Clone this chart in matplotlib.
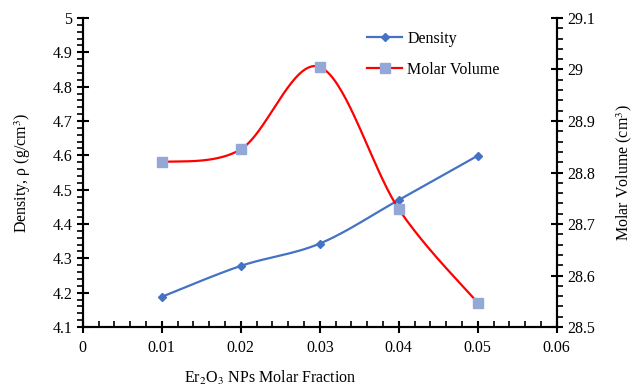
import numpy as np
import matplotlib.pyplot as plt
from matplotlib.ticker import MultipleLocator, FuncFormatter
from matplotlib.lines import Line2D

plt.rcParams['font.family'] = ['Liberation Serif', 'DejaVu Serif']
plt.rcParams['mathtext.fontset'] = 'stix'

# data
fraction = [0.01, 0.02, 0.03, 0.04, 0.05]
density = [4.188, 4.278, 4.343, 4.470, 4.599]
molar_volume = [28.820, 28.845, 29.005, 28.729, 28.547]


def smooth(x, y, n=40):
    # Excel-style smoothed line (Catmull-Rom through the points)
    x = np.asarray(x, float)
    y = np.asarray(y, float)
    px = np.concatenate([[x[0]], x, [x[-1]]])
    py = np.concatenate([[y[0]], y, [y[-1]]])
    xs, ys = [], []
    t = np.linspace(0, 1, n)
    for i in range(1, len(px) - 2):
        p0, p1, p2, p3 = [np.array([px[j], py[j]]) for j in range(i - 1, i + 3)]
        c1 = p1 + (p2 - p0) / 6
        c2 = p2 - (p3 - p1) / 6
        b = ((1 - t) ** 3)[:, None] * p1 + (3 * (1 - t) ** 2 * t)[:, None] * c1 \
            + (3 * (1 - t) * t ** 2)[:, None] * c2 + (t ** 3)[:, None] * p2
        xs.extend(b[:, 0])
        ys.extend(b[:, 1])
    return np.array(xs), np.array(ys)


fig = plt.figure(figsize=(6.37, 3.87), dpi=100)
ax = fig.add_axes([0.130, 0.155, 0.744, 0.7985])
ax2 = ax.twinx()

blue = '#4472C4'
red = '#FF0000'
sq = '#94A8D8'

sx, sy = smooth(fraction, density)
ax.plot(sx, sy, color=blue, lw=1.6)
ax.plot(fraction, density, ls='none', marker='D', ms=4.5, color=blue)

sx2, sy2 = smooth(fraction, molar_volume)
ax2.plot(sx2, sy2, color=red, lw=1.6)
ax2.plot(fraction, molar_volume, ls='none', marker='s', ms=7, color=sq)

ax.set_xlim(0, 0.06)
ax.set_ylim(4.1, 5.0)
ax2.set_ylim(28.5, 29.1)

ax.xaxis.set_major_locator(MultipleLocator(0.01))
ax.xaxis.set_minor_locator(MultipleLocator(0.002))
ax.yaxis.set_major_locator(MultipleLocator(0.1))
ax.yaxis.set_minor_locator(MultipleLocator(0.02))
ax2.yaxis.set_major_locator(MultipleLocator(0.1))
ax2.yaxis.set_minor_locator(MultipleLocator(0.02))

fmt = FuncFormatter(lambda v, p: '%g' % round(v, 4))
ax.xaxis.set_major_formatter(fmt)
ax.yaxis.set_major_formatter(fmt)
ax2.yaxis.set_major_formatter(fmt)

for a in (ax, ax2):
    a.spines['top'].set_visible(False)
    for s in a.spines.values():
        s.set_linewidth(1.5)
    a.tick_params(which='major', direction='inout', length=8, width=1.5, labelsize=11.5)
    a.tick_params(which='minor', direction='in', length=4, width=1.2)
ax.tick_params(axis='x', pad=5)
ax.tick_params(axis='y', which='minor', direction='out')
ax2.tick_params(axis='y', which='minor', direction='out')

ax.set_xlabel('Er$_2$O$_3$ NPs Molar Fraction', fontsize=11.5, labelpad=7)
ax.xaxis.set_label_coords(0.396, -0.135)
ax.set_ylabel('Density, ρ (g/cm$^3$)', fontsize=11.5, labelpad=14)
ax2.set_ylabel('Molar Volume (cm$^3$)', fontsize=11.5, labelpad=14)

h1 = Line2D([], [], color=blue, lw=1.6, marker='D', ms=4.5)
h2 = Line2D([], [], color=red, lw=1.6, marker='s', ms=7, mfc=sq, mec=sq)
ax.legend([h1, h2], ['Density', 'Molar Volume'], loc='upper left',
          bbox_to_anchor=(0.57, 1.005), frameon=False, fontsize=11.5,
          handlelength=2.2, labelspacing=0.95, handletextpad=0.3)

fig.savefig('out.png', dpi=100)
